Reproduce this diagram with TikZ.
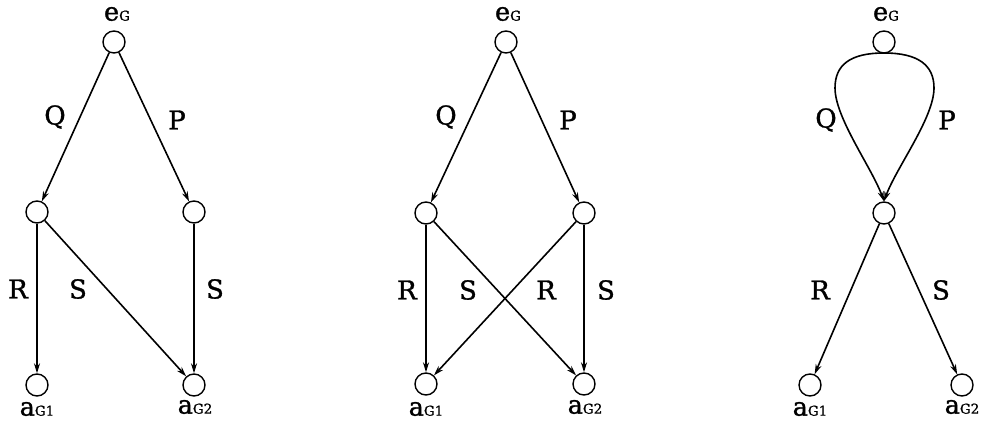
\documentclass[tikz,border=0pt]{standalone}
\usepackage{fontspec}
\setmainfont[FakeBold=1.2]{DejaVu Serif}
\usetikzlibrary{arrows.meta}
\newcommand\sublab[2]{#1{\fontsize{13.5}{13.5}\selectfont #2}}
\begin{document}
\begin{tikzpicture}[x=1pt,y=-1pt,
  vtx/.style={circle,draw,line width=1.4pt,minimum size=22pt,inner sep=0pt},
  arr/.style={line width=1.6pt,-{Stealth[length=10pt,width=6pt]}},
  lbl/.style={font=\fontsize{26}{26}\selectfont,inner sep=0pt},
  nlbl/.style={font=\fontsize{25.5}{25.5}\selectfont,inner sep=0pt}]
\useasboundingbox (0,0) rectangle (984,427);
% ---------- diagram 1
\node[vtx] (e1) at (114,42) {};
\node[vtx] (l1) at (37,212) {};
\node[vtx] (r1) at (194,212) {};
\node[vtx] (bl1) at (37,385) {};
\node[vtx] (br1) at (194,385) {};
\node[nlbl] (te1) at (117,14) {\sublab{e}{G}};
\node[nlbl] (ta11) at (37,409) {\sublab{a}{G1}};
\node[nlbl] (ta12) at (195,407) {\sublab{a}{G2}};
\draw[arr] (e1) -- (l1);
\draw[arr] (e1) -- (r1);
\draw[arr] (l1) -- (bl1);
\draw[arr] (l1) -- (br1);
\draw[arr] (r1) -- (br1);
\node[lbl] (q1) at (55,117) {Q};
\node[lbl] (p1) at (177,120) {P};
\node[lbl] (rr1) at (18,289) {R};
\node[lbl] (s1a) at (78,289) {S};
\node[lbl] (s1b) at (215,289) {S};
% ---------- diagram 2
\node[vtx] (e2) at (506,42) {};
\node[vtx] (l2) at (426,213) {};
\node[vtx] (r2) at (584,213) {};
\node[vtx] (bl2) at (426,384) {};
\node[vtx] (br2) at (584,384) {};
\node[nlbl] (te2) at (508,14) {\sublab{e}{G}};
\node[nlbl] (ta21) at (426,409) {\sublab{a}{G1}};
\node[nlbl] (ta22) at (585,407) {\sublab{a}{G2}};
\draw[arr] (e2) -- (l2);
\draw[arr] (e2) -- (r2);
\draw[arr] (l2) -- (bl2);
\draw[arr] (l2) -- (br2);
\draw[arr] (r2) -- (bl2);
\draw[arr] (r2) -- (br2);
\node[lbl] (q2) at (446,117) {Q};
\node[lbl] (p2) at (568,120) {P};
\node[lbl] (rr2a) at (407,290) {R};
\node[lbl] (s2a) at (468,290) {S};
\node[lbl] (rr2b) at (546,290) {R};
\node[lbl] (s2b) at (606,290) {S};
% ---------- diagram 3
\node[vtx] (e3) at (884,42) {};
\node[vtx] (m3) at (884,213) {};
\node[vtx] (bl3) at (810,385) {};
\node[vtx] (br3) at (962,385) {};
\node[nlbl] (te3) at (886,14) {\sublab{e}{G}};
\node[nlbl] (ta31) at (810,409) {\sublab{a}{G1}};
\node[nlbl] (ta32) at (962,407) {\sublab{a}{G2}};
\coordinate (top3) at (884,53);
\draw[arr] (top3) .. controls (850,53) and (835,65) .. (835,88)
  .. controls (835,118) and (872,168) .. (m3.north);
\draw[arr] (top3) .. controls (918,53) and (934,65) .. (934,88)
  .. controls (934,118) and (896,168) .. (m3.north);
\draw[arr] (m3) -- (bl3);
\draw[arr] (m3) -- (br3);
\node[lbl] (q3) at (826,120) {Q};
\node[lbl] (p3) at (947,120) {P};
\node[lbl] (rr3) at (820,290) {R};
\node[lbl] (s3) at (941,290) {S};
\end{tikzpicture}
\end{document}
